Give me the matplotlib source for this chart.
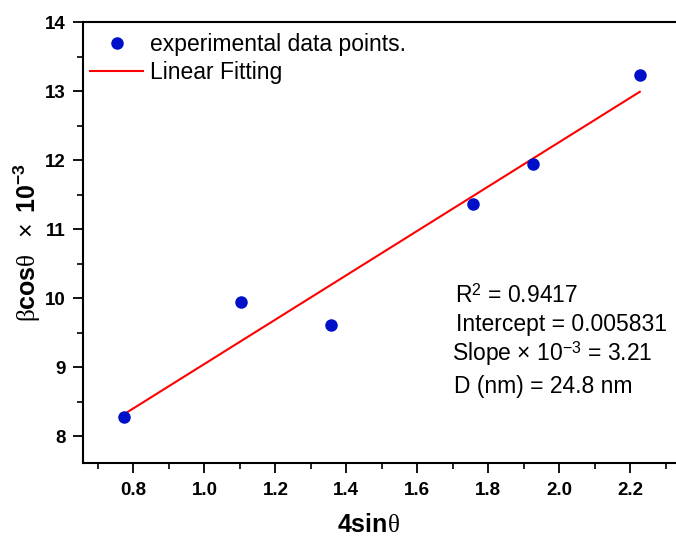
import numpy as np
import matplotlib
matplotlib.use("Agg")
import matplotlib.pyplot as plt
from matplotlib.ticker import MultipleLocator, FormatStrFormatter

# values
four_sin_theta = [0.772, 1.103, 1.357, 1.758, 1.927, 2.227]
beta_cos_theta = [8.28, 9.95, 9.616, 11.37, 11.95, 13.24]

stats_lines = [
    r"R$^{2}$ = 0.9417",
    "Intercept = 0.005831",
    r"Slope $\times$ 10$^{-3}$ = 3.21",
    "D (nm) = 24.8 nm",
]

plt.rcParams["font.family"] = ["Liberation Sans", "DejaVu Sans"]
plt.rcParams["mathtext.fontset"] = "custom"
plt.rcParams["mathtext.rm"] = "Liberation Sans"
plt.rcParams["mathtext.bf"] = "Liberation Sans:bold"
plt.rcParams["mathtext.it"] = "Liberation Serif"
plt.rcParams["mathtext.sf"] = "Liberation Sans"

W, H = 676, 537
fig = plt.figure(figsize=(W / 100, H / 100), dpi=100)
ax = fig.add_axes([82.7 / W, 1 - 462.7 / H, 1 - 82.7 / W, (462.7 - 22.3) / H])

x = np.array(four_sin_theta)
y = np.array(beta_cos_theta)
slope, intercept = np.polyfit(x, y, 1)
xf = np.array([x.min(), x.max()])

line, = ax.plot(xf, intercept + slope * xf, color="#ff0000", lw=1.5, zorder=2)
pts, = ax.plot(x, y, "o", color="#0010c8", ms=8, zorder=3, lw=0)

ax.set_xlim(0.657, 2.329)
ax.set_ylim(7.62, 14.0)

ax.xaxis.set_major_locator(MultipleLocator(0.2))
ax.xaxis.set_minor_locator(MultipleLocator(0.1))
ax.xaxis.set_major_formatter(FormatStrFormatter("%.1f"))
ax.yaxis.set_major_locator(MultipleLocator(1))
ax.yaxis.set_minor_locator(MultipleLocator(0.5))

ax.spines["right"].set_visible(False)
for s in ["left", "bottom", "top"]:
    ax.spines[s].set_linewidth(1.5)
ax.tick_params(which="major", direction="out", length=7, width=1.3, labelsize=13.5)
ax.tick_params(which="minor", direction="out", length=4, width=1.2)
ax.tick_params(axis="x", which="major", pad=7)
ax.tick_params(axis="y", which="major", pad=5)
for lab in ax.get_xticklabels() + ax.get_yticklabels():
    lab.set_fontweight("bold")

ax.set_xlabel(r"$\mathbf{4sin}\theta$", fontsize=18, labelpad=10)
ax.xaxis.label.set_x((368 - 82.7) / (W - 82.7))
ax.set_ylabel(r"$\beta\mathbf{cos}\theta\ \ \times\ \mathbf{10^{-3}}$", fontsize=18, labelpad=2)

ax.legend([pts, line], ["experimental data points.", "Linear Fitting"],
          loc="upper left", bbox_to_anchor=(79 / W, 1 - 22 / H),
          bbox_transform=fig.transFigure, frameon=False, fontsize=16.5,
          borderpad=0, handlelength=2.3, handletextpad=0.3, labelspacing=0.2)

text_x = [455, 456, 452, 454]
text_y = [296, 324, 354, 386]
for tx, ty, s in zip(text_x, text_y, stats_lines):
    fig.text(tx / W, 1 - ty / H, s, fontsize=16.5, ha="left", va="center")

fig.savefig("out.png", dpi=100)
